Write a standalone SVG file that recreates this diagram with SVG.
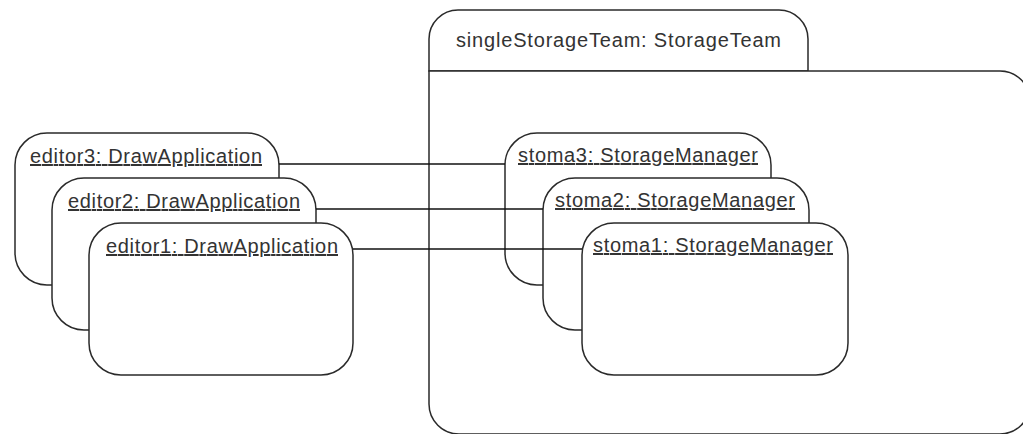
<svg xmlns="http://www.w3.org/2000/svg" width="1023" height="434" viewBox="0 0 1023 434">
<style>
.box{fill:#fff;stroke:#2a2a2a;stroke-width:1.5}
.lbl{font-family:"Liberation Sans",Arial,sans-serif;font-size:20px;fill:#333;text-decoration:underline}
.title{font-family:"Liberation Sans",Arial,sans-serif;font-size:20px;fill:#333}
.conn{stroke:#111;stroke-width:1.4;fill:none}
</style>
<rect width="1023" height="434" fill="#fff"/>
<g id="singleStorageTeam">
<path class="box" d="M429,71 L429,39 A29,29 0 0 1 458,10 L779,10 A29,29 0 0 1 808,39 L808,71 Z"/>
<path class="box" d="M429,71 L1000,71 A30,30 0 0 1 1030,101 L1030,404 A30,30 0 0 1 1000,434 L459,434 A30,30 0 0 1 429,404 Z"/>
<text class="title" x="456" y="47" textLength="325">singleStorageTeam: StorageTeam</text>
</g>
<g id="editor3">
<rect class="box" x="15" y="133" width="264" height="152" rx="32" ry="32"/>
<text class="lbl" x="30" y="163" textLength="232">editor3: DrawApplication</text>
</g>
<g id="editor2">
<rect class="box" x="52" y="178" width="264" height="152" rx="32" ry="32"/>
<text class="lbl" x="68" y="208" textLength="232">editor2: DrawApplication</text>
</g>
<g id="editor1">
<rect class="box" x="89" y="223" width="264" height="152" rx="32" ry="32"/>
<text class="lbl" x="106" y="253" textLength="232">editor1: DrawApplication</text>
</g>
<g id="stoma3">
<rect class="box" x="505" y="133" width="266" height="152" rx="32" ry="32"/>
<text class="lbl" x="518" y="162" textLength="240">stoma3: StorageManager</text>
</g>
<g id="stoma2">
<rect class="box" x="543" y="178" width="266" height="152" rx="32" ry="32"/>
<text class="lbl" x="555" y="207" textLength="240">stoma2: StorageManager</text>
</g>
<g id="stoma1">
<rect class="box" x="582" y="223" width="266" height="152" rx="32" ry="32"/>
<text class="lbl" x="593" y="252" textLength="240">stoma1: StorageManager</text>
</g>
<g id="connectors">
<line class="conn" x1="279" y1="164" x2="505" y2="164"/>
<line class="conn" x1="316" y1="209" x2="543" y2="209"/>
<line class="conn" x1="353" y1="249" x2="582" y2="249"/>
</g>
</svg>
